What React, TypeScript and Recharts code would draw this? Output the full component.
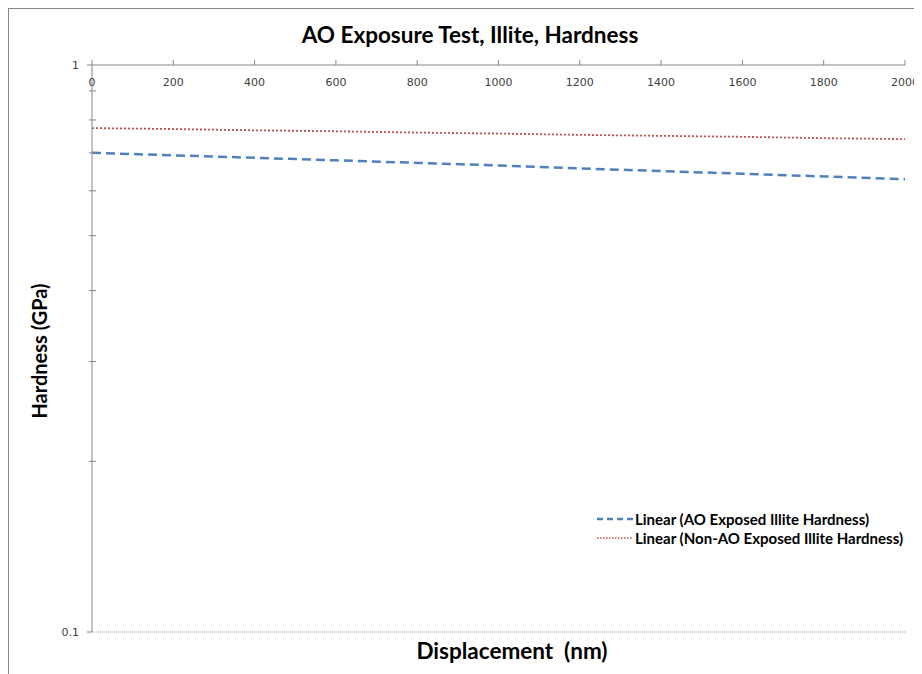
import { LineChart, Line, XAxis, YAxis } from 'recharts'

// displacement (nm) and trendline hardness values (GPa)
const displacement = [0, 200, 400, 600, 800, 1000, 1200, 1400, 1600, 1800, 2000]
const aoExposed = [0.7, 0.693, 0.686, 0.679, 0.672, 0.665, 0.657, 0.65, 0.643, 0.636, 0.629]
const nonAoExposed = [0.774, 0.771, 0.767, 0.764, 0.76, 0.757, 0.753, 0.75, 0.747, 0.743, 0.74]

const xTicks = [0, 200, 400, 600, 800, 1000, 1200, 1400, 1600, 1800, 2000]
const yTicks = [0.1, 0.2, 0.3, 0.4, 0.5, 0.6, 0.7, 0.8, 0.9, 1]
const yLabels = [0.1, 1]

const data = displacement.map((x, i) => ({ x, ao: aoExposed[i], nonAo: nonAoExposed[i] }))

const BLUE = '#4f81bd'
const RED = '#c0504d'
const AXIS = '#868686'
const LABEL_FONT = 'Lato, "Open Sans", sans-serif'

const PLOT_LEFT = 83
const PLOT_TOP = 56

function XTick({ x, payload }: any) {
  return (
    <text x={x} y={PLOT_TOP + 21} textAnchor="middle" fontSize={11} fontFamily="DejaVu Sans" fill="#404040">
      {payload.value}
    </text>
  )
}

function YTick({ y, payload }: any) {
  const major = yLabels.includes(payload.value)
  return (
    <g>
      {major ? (
        <line x1={PLOT_LEFT - 5} x2={PLOT_LEFT} y1={y} y2={y} stroke={AXIS} />
      ) : (
        <line x1={PLOT_LEFT - 3} x2={PLOT_LEFT + 4} y1={y} y2={y} stroke={AXIS} />
      )}
      {major && (
        <text x={PLOT_LEFT - 13} y={y + 4} textAnchor="end" fontSize={11} fontFamily="DejaVu Sans" fill="#404040">
          {payload.value}
        </text>
      )}
    </g>
  )
}

const legendRows = [
  { name: 'Linear (AO Exposed Illite Hardness)', color: BLUE, dash: '6 4', w: 2.5 },
  { name: 'Linear (Non-AO Exposed Illite Hardness)', color: RED, dash: '1.5 1.5', w: 1.5 },
]

export default function App() {
  return (
    <div
      style={{
        position: 'relative',
        width: 913,
        height: 670,
        borderTop: `1px solid ${AXIS}`,
        borderLeft: `1px solid ${AXIS}`,
      }}
    >
      <style>{'html, body { overflow: hidden; } svg.recharts-surface { overflow: visible; }'}</style>
      <div
        style={{
          position: 'absolute',
          left: 0,
          top: 13,
          width: 922,
          textAlign: 'center',
          fontFamily: LABEL_FONT,
          fontWeight: 700,
          fontSize: 22.5,
          lineHeight: '26px',
          color: '#000',
        }}
      >
        AO Exposure Test, Illite, Hardness
      </div>
      <div
        style={{
          position: 'absolute',
          left: 588,
          top: 500,
          fontFamily: LABEL_FONT,
          fontWeight: 700,
          fontSize: 15,
          color: '#000',
          zIndex: 2,
        }}
      >
        {legendRows.map((r) => (
          <div key={r.name} style={{ display: 'flex', alignItems: 'center', height: 19.5, whiteSpace: 'nowrap' }}>
            <svg width={38} height={10}>
              <line x1={0} x2={36} y1={5} y2={5} stroke={r.color} strokeWidth={r.w} strokeDasharray={r.dash} />
            </svg>
            <span>{r.name}</span>
          </div>
        ))}
      </div>
      <LineChart width={913} height={656} data={data} margin={{ top: 36, right: 17, left: 0, bottom: 0 }}>
        <XAxis
          dataKey="x"
          type="number"
          orientation="top"
          domain={[0, 2000]}
          ticks={xTicks}
          height={20}
          tickSize={5}
          stroke={AXIS}
          tick={<XTick />}
        />
        <XAxis
          xAxisId="b"
          dataKey="x"
          type="number"
          orientation="bottom"
          domain={[0, 2000]}
          height={33}
          tick={false}
          tickLine={false}
          axisLine={{ stroke: '#a0a0a0', strokeDasharray: '1 1' }}
          label={{
            content: () => (
              <text
                x={503}
                y={650}
                textAnchor="middle"
                fontFamily={LABEL_FONT}
                fontWeight={700}
                fontSize={22.5}
                fill="#000"
                style={{ whiteSpace: 'pre' }}
              >
                {'Displacement  (nm)'}
              </text>
            ),
          }}
        />
        <YAxis
          type="number"
          scale="log"
          domain={[0.1, 1]}
          ticks={yTicks}
          allowDataOverflow
          width={83}
          tickLine={false}
          stroke={AXIS}
          tick={<YTick />}
          label={{
            content: () => (
              <text
                x={38}
                y={342}
                transform="rotate(-90 38 342)"
                textAnchor="middle"
                fontFamily={LABEL_FONT}
                fontWeight={700}
                fontSize={20}
                fill="#000"
              >
                Hardness (GPa)
              </text>
            ),
          }}
        />
        <Line
          dataKey="ao"
          type="linear"
          stroke={BLUE}
          strokeWidth={2.5}
          strokeDasharray="9 5"
          dot={false}
          isAnimationActive={false}
        />
        <Line
          dataKey="nonAo"
          type="linear"
          stroke={RED}
          strokeWidth={1.8}
          strokeDasharray="2 2"
          dot={false}
          isAnimationActive={false}
        />
      </LineChart>
    </div>
  )
}
